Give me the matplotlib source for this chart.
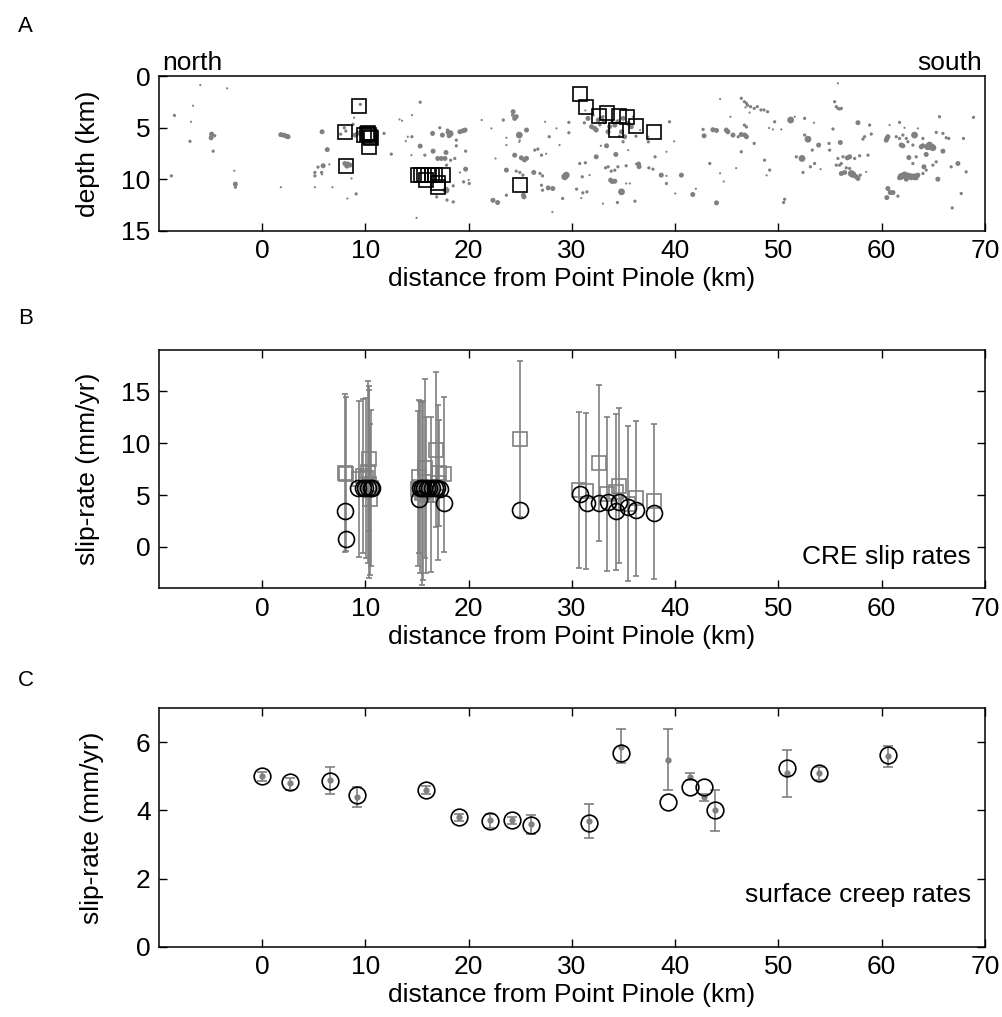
import numpy as np
import matplotlib.pyplot as plt

plt.rcParams['font.family'] = ['Liberation Sans', 'DejaVu Sans']
plt.rcParams['font.size'] = 19

GRAY = '#808080'

# ---- panel A: seismicity (distance km, depth km, size class 1..4)
eq_x = [
    -8.5, -6.0, -3.4, -6.7, -6.9, -7.0, -4.9, -4.95, -4.6, -4.75, -8.8, -2.7, -2.6, -2.6,
    1.8, 2.1, 2.35, 2.5, 1.8,
    5.8, 6.3, 5.9, 5.4, 6.5, 5.1, 5.1, 5.75, 5.8, 5.1, 6.8,
    7.95, 8.1, 7.6, 8.0, 8.3, 8.5, 8.2, 8.65, 9.1, 8.25, 8.9, 8.8, 9.5, 9.0, 9.3,
    15.3, 14.5, 13.3, 13.55, 11.8, 14.1, 14.5, 13.9, 15.3, 12.5, 14.45, 16.5, 17.2, 17.45,
    18.0, 18.2, 18.1, 17.95, 19.15, 19.45, 19.65, 18.8, 18.8, 15.75, 16.55, 17.0, 17.35,
    17.7, 17.8, 18.25, 18.65, 17.85, 19.7, 19.7, 19.15, 19.5, 20.05, 20.0, 18.5, 17.8,
    17.9, 18.5, 16.9, 14.95,
    21.25, 22.2, 23.35, 24.3, 24.45, 24.6, 24.25, 25.6, 24.9, 24.95, 24.9, 23.65, 23.65,
    24.45, 25.1, 25.4, 25.6, 22.6, 23.65, 24.6, 24.95, 25.25, 26.3, 26.9, 27.15, 26.4,
    26.7, 27.05, 27.5, 27.8, 27.4, 28.5, 28.8, 29.7, 29.3, 27.05, 27.15, 27.7, 28.15,
    25.3, 25.35, 23.65, 22.35, 22.8, 29.1, 28.1, 25.6,
    31.55, 31.9, 32.05, 32.2, 32.35, 32.55, 32.85, 33.15, 33.5, 33.65, 34.15, 34.45, 34.8,
    34.95, 35.1, 35.45, 35.75, 32.7, 33.9, 34.6, 31.2, 35.9, 31.3, 33.0, 36.2, 36.6,
    29.7, 33.35, 34.25, 32.35, 32.8, 34.95, 35.45, 36.2, 35.25, 34.45, 33.5, 33.25, 36.45,
    36.5, 30.75, 31.3, 29.45, 31.0, 31.7, 33.75, 34.15, 33.9, 33.8, 34.15, 35.25, 35.6,
    34.8, 34.4, 33.0, 30.45, 31.05, 31.45, 30.9, 36.1, 37.45, 37.85, 38.65, 39.15, 39.15,
    40.0, 40.6, 38.05, 39.15, 37.4, 37.4, 39.45, 39.9,
    41.7, 42.0, 44.0, 42.7, 43.65, 44.0, 42.8, 44.95, 45.1, 45.6, 46.1, 46.4, 46.75, 46.9,
    45.35, 44.35, 46.4, 46.7, 46.9, 47.0, 47.3, 47.65, 47.95, 48.3, 48.6, 48.95, 46.8, 47.2,
    46.7, 46.9, 46.4, 47.65, 48.65, 49.15, 48.85, 49.1, 43.35, 44.35, 44.7, 45.9,
    55.44, 55.6, 55.76, 55.92, 56.09, 55.76, 51.18, 51.57, 49.63, 52.54, 53.44, 49.47, 50.28,
    57.7, 58.83, 55.28, 52.86, 52.54, 53.89, 55.99, 54.9, 54.96, 53.28, 52.28, 51.73, 53.5,
    53.09, 52.38, 54.08, 55.76, 56.25, 56.89, 56.67, 57.38, 57.86, 58.67, 55.6, 55.92,
    56.09, 56.57, 56.89, 56.09, 56.41, 57.05, 57.21, 57.54, 57.7, 57.92, 58.5, 58.34, 58.18,
    58.99, 50.6, 50.5,
    60.6, 60.44, 60.5, 61.41, 61.73, 62.05, 62.38, 61.73, 62.21, 60.76, 63.18, 63.5, 63.99,
    61.89, 62.05, 62.54, 63.02, 63.83, 63.99, 64.63, 64.8, 64.96, 64.47, 64.31, 65.93,
    65.28, 65.93, 65.6, 66.25, 66.5, 65.28, 63.34, 62.63, 63.02, 61.89, 62.21, 62.54, 62.86,
    63.18, 63.34, 61.73, 62.38, 63.5, 64.09, 64.31, 63.99, 64.96, 65.44, 60.6, 60.83, 61.09,
    60.5, 61.57, 67.38, 66.73, 68.18, 67.92, 68.89, 67.7, 66.83,
]
eq_depth = [
    3.78, 0.83, 1.15, 2.84, 4.4, 6.3, 5.6, 5.95, 5.75, 7.25, 9.65, 9.15, 10.45, 10.75,
    5.65, 5.7, 5.8, 5.85, 10.75,
    5.37, 7.1, 8.67, 8.8, 8.54, 9.32, 9.65, 9.32, 9.5, 10.75, 10.75,
    4.98, 5.3, 5.6, 8.45, 8.5, 8.6, 8.7, 9.9, 11.4, 11.85, 4.0, 4.65, 2.71, 5.69, 5.5,
    2.5, 3.75, 4.17, 4.3, 5.53, 5.85, 5.85, 6.28, 6.76, 7.54, 7.64, 5.53, 4.98, 5.69,
    5.4, 5.55, 5.75, 5.2, 5.37, 5.27, 5.2, 6.18, 6.73, 7.64, 7.25, 7.96, 7.96,
    7.96, 7.38, 8.13, 7.96, 8.61, 7.25, 9.0, 9.32, 10.23, 10.39, 10.05, 10.62, 11.04,
    12.0, 12.18, 11.69, 13.73,
    4.23, 5.04, 4.23, 3.42, 4.07, 3.9, 3.75, 5.2, 5.69, 6.2, 6.35, 5.95, 6.66,
    7.64, 7.9, 8.1, 7.95, 7.96, 9.09, 9.19, 9.32, 9.58, 9.32, 9.42, 9.65, 7.15,
    7.05, 7.64, 7.5, 5.85, 4.4, 5.04, 6.66, 4.46, 9.74, 10.56, 11.04, 10.82, 10.88,
    11.53, 11.69, 11.53, 12.02, 12.24, 11.85, 13.15, 11.2,
    4.07, 4.88, 3.75, 5.04, 5.2, 4.23, 4.07, 4.4, 5.37, 4.88, 4.72, 4.4, 5.37,
    4.07, 5.85, 4.56, 4.88, 4.7, 4.3, 5.8, 4.5, 3.9, 3.3, 3.9, 5.8, 5.2,
    5.46, 6.73, 7.57, 7.8, 6.73, 6.34, 7.15, 8.5, 8.67, 8.77, 8.77, 8.87, 8.5,
    8.75, 8.45, 8.38, 9.58, 9.74, 9.58, 10.07, 10.17, 10.2, 9.19, 9.1, 10.39, 10.39,
    11.2, 12.24, 12.34, 10.94, 11.3, 11.2, 11.8, 12.11, 8.87, 9.0, 9.58, 9.65, 10.39,
    11.36, 9.58, 7.8, 7.31, 6.34, 5.85, 4.4, 6.3,
    11.46, 10.9, 12.27, 5.14, 5.17, 5.24, 5.76, 5.2, 5.37, 5.69, 5.85, 5.63, 5.69, 5.85,
    3.91, 2.19, 2.12, 2.45, 2.6, 2.8, 2.93, 3.1, 2.93, 3.25, 3.25, 3.42, 3.0, 3.5,
    4.72, 4.9, 7.31, 6.5, 8.13, 9.09, 9.6, 5.0, 8.45, 9.4, 10.2, 8.9,
    2.45, 2.93, 3.1, 3.16, 3.1, 0.66, 4.23, 3.91, 4.4, 4.07, 4.49, 5.14, 5.14,
    4.49, 4.72, 5.1, 6.09, 5.69, 6.66, 6.41, 6.5, 7.15, 7.15, 7.96, 7.8, 8.45,
    8.77, 9.32, 9.0, 7.96, 7.8, 7.8, 7.9, 7.96, 7.7, 7.64, 8.61, 8.61,
    8.45, 8.87, 8.93, 9.42, 9.32, 9.42, 9.52, 9.74, 9.9, 9.58, 9.26, 5.85, 6.08,
    5.59, 11.92, 12.24,
    5.85, 6.18, 6.02, 5.85, 6.02, 5.69, 6.02, 4.46, 4.98, 4.72, 5.69, 5.04, 6.02,
    6.66, 6.73, 6.34, 6.66, 6.83, 6.73, 6.66, 6.83, 6.92, 6.83, 7.57, 7.25,
    5.43, 5.53, 3.91, 5.95, 6.02, 8.29, 7.8, 7.87, 8.45, 9.7, 9.55, 9.66, 9.74,
    9.74, 9.84, 9.84, 9.97, 9.58, 8.77, 9.09, 9.42, 8.61, 9.97, 10.88, 11.27, 11.27,
    11.76, 11.62, 8.45, 8.77, 9.26, 6.02, 3.97, 11.36, 12.76,
]
eq_size = [
    2, 1, 1, 1, 1, 2, 3, 3, 2, 2, 2, 1, 3, 2,
    3, 3, 3, 3, 1,
    3, 3, 3, 2, 1, 2, 2, 2, 1, 1, 1,
    2, 2, 2, 3, 3, 3, 3, 1, 2, 1, 1, 2, 2, 3, 3,
    2, 1, 1, 1, 2, 1, 2, 1, 3, 2, 1, 3, 2, 3,
    3, 4, 3, 2, 3, 3, 3, 2, 2, 2, 3, 3, 3,
    3, 3, 2, 2, 2, 2, 3, 1, 2, 2, 1, 2, 4,
    2, 2, 2, 1,
    1, 1, 2, 3, 3, 3, 2, 3, 4, 1, 1, 1, 1,
    3, 3, 3, 3, 1, 3, 2, 2, 2, 3, 2, 2, 2,
    2, 2, 1, 2, 1, 1, 1, 2, 4, 2, 2, 3, 3,
    3, 3, 2, 3, 3, 2, 1, 1,
    3, 3, 2, 3, 3, 3, 3, 3, 3, 3, 3, 3, 3,
    3, 3, 3, 3, 2, 2, 2, 2, 1, 1, 2, 2, 1,
    2, 3, 3, 3, 1, 2, 1, 1, 2, 2, 2, 2, 3,
    3, 2, 2, 4, 2, 1, 3, 3, 3, 2, 2, 1, 1,
    4, 2, 1, 2, 2, 2, 1, 2, 2, 2, 3, 1, 2,
    1, 3, 2, 1, 2, 1, 2, 1,
    3, 1, 3, 2, 3, 3, 3, 3, 3, 3, 2, 3, 3, 3,
    1, 1, 2, 2, 2, 2, 2, 2, 2, 2, 2, 2, 1, 1,
    2, 2, 2, 2, 2, 2, 1, 1, 2, 1, 1, 1,
    2, 2, 2, 2, 2, 1, 4, 1, 2, 2, 1, 1, 1,
    3, 2, 2, 4, 2, 3, 3, 2, 2, 2, 4, 2, 2,
    2, 2, 1, 2, 2, 3, 3, 2, 2, 2, 2, 2,
    2, 2, 2, 3, 3, 4, 4, 3, 3, 2, 1, 2, 2,
    2, 2, 2,
    3, 3, 3, 2, 2, 2, 2, 2, 1, 1, 4, 1, 2,
    3, 3, 2, 2, 3, 3, 4, 4, 4, 4, 3, 3,
    2, 2, 2, 2, 2, 2, 2, 3, 2, 4, 4, 4, 4,
    4, 3, 3, 3, 3, 3, 2, 2, 2, 3, 3, 3, 3,
    3, 2, 3, 2, 2, 2, 2, 2, 2,
]

# repeating earthquake sequences (black squares)
rep_x = [9.36, 8.0, 8.1, 9.9, 10.1, 10.3, 10.4, 10.5, 10.2, 10.3,
         15.1, 15.4, 15.7, 16.1, 16.4, 16.7, 17.5, 17.0, 17.0, 15.9,
         24.95,
         30.76, 31.4, 32.6, 33.4, 34.56, 35.37, 34.24, 36.24, 37.9]
rep_depth = [2.84, 5.37, 8.67, 5.7, 5.6, 5.7, 5.9, 6.0, 5.5, 6.8,
             9.58, 9.58, 9.58, 9.58, 9.6, 9.6, 9.6, 10.3, 10.7, 10.07,
             10.49,
             1.7, 2.93, 3.81, 3.52, 3.84, 3.97, 5.2, 4.78, 5.37]

# ---- panel B: CRE slip rates
cre_sq_x = [8.0, 8.16, 9.37, 9.78, 10.04, 10.27, 10.36, 10.49, 10.3, 10.45,
            15.05, 15.2, 15.33, 15.49, 15.59, 15.75, 15.91, 16.33, 16.81, 17.04, 17.14, 17.59,
            24.95,
            30.69, 31.4, 32.59, 33.4, 34.24, 34.56, 35.43, 36.24, 37.95]
cre_sq_rate = [7.13, 7.03, 6.57, 6.85, 6.65, 7.25, 6.05, 5.67, 8.5, 4.6,
               5.59, 6.77, 5.8, 5.16, 5.44, 7.57, 5.0, 5.03, 9.4, 6.2, 7.11, 7.0,
               10.4,
               5.48, 5.38, 8.1, 5.08, 5.29, 5.9, 4.17, 4.68, 4.4]
cre_sq_err = [7.64, 7.42, 7.5, 7.45, 7.75, 8.8, 9.05, 7.5, 7.0, 7.3,
              7.48, 7.37, 8.33, 8.81, 8.6, 8.66, 7.53, 7.5, 7.5, 7.45, 5.11, 7.45,
              7.5,
              7.53, 7.53, 7.53, 7.45, 7.5, 7.5, 7.5, 7.52, 7.5]

cre_circ_x = [8.0, 8.16, 9.26, 9.75, 10.0, 10.27, 10.49, 10.68,
              15.2, 15.33, 15.5, 15.7, 15.95, 16.2, 16.45, 16.7, 16.95, 17.2, 17.59,
              24.95,
              30.76, 31.47, 32.59, 33.5, 34.24, 34.56, 35.43, 36.24, 37.95]
cre_circ_rate = [3.49, 0.77, 5.64, 5.64, 5.64, 5.64, 5.64, 5.64,
                 4.62, 5.65, 5.65, 5.7, 5.7, 5.7, 5.7, 5.7, 5.65, 5.6, 4.19,
                 3.55,
                 5.06, 4.2, 4.2, 4.36, 3.5, 4.36, 3.88, 3.56, 3.3]

# ---- panel C: surface creep rates
creep_x = [0.0, 2.68, 6.55, 9.2, 15.85, 19.04, 22.1, 24.2, 26.07,
           31.63, 34.73, 39.31, 41.47, 42.82, 43.89, 50.87, 53.93, 60.61]
creep_rate = [5.0, 4.8, 4.9, 4.41, 4.6, 3.8, 3.71, 3.71, 3.59,
              3.69, 5.85, 5.49, 4.99, 4.39, 4.0, 5.1, 5.1, 5.6]
creep_lo = [4.88, 4.59, 4.49, 4.1, 4.49, 3.69, 3.49, 3.59, 3.3,
            3.2, 5.38, 4.6, 4.9, 4.29, 3.39, 4.39, 4.9, 5.29]
creep_hi = [5.12, 4.96, 5.29, 4.7, 4.71, 3.9, 3.9, 3.82, 3.88,
            4.2, 6.39, 6.39, 5.09, 4.49, 4.59, 5.78, 5.27, 5.88]
model_rate = [5.0, 4.85, 4.86, 4.46, 4.6, 3.8, 3.68, 3.73, 3.56,
              3.63, 5.69, 4.26, 4.68, 4.68, 4.02, 5.25, 5.1, 5.63]

xticks = [0, 10, 20, 30, 40, 50, 60, 70]
xlab = 'distance from Point Pinole (km)'

fig = plt.figure(figsize=(10.03, 10.17), dpi=100)
axA = fig.add_axes([0.1585, 0.7729, 0.8235, 0.1519])
axB = fig.add_axes([0.1585, 0.4215, 0.8235, 0.2343])
axC = fig.add_axes([0.1585, 0.0692, 0.8235, 0.2343])

# A
size_map = {1: 2.5, 2: 5.5, 3: 13, 4: 24}
axA.scatter(eq_x, eq_depth, s=[size_map[m] for m in eq_size], c=GRAY, linewidths=0, zorder=2)
axA.plot(rep_x, rep_depth, 's', mfc='none', mec='k', ms=9.6, mew=1.2, zorder=3)
axA.set_ylim(15, 0)
axA.set_yticks([0, 5, 10, 15])
axA.set_ylabel('depth (km)')
axA.text(0.004, 1.01, 'north', transform=axA.transAxes, ha='left', va='bottom')
axA.text(0.996, 1.01, 'south', transform=axA.transAxes, ha='right', va='bottom')

# B
axB.errorbar(cre_sq_x, cre_sq_rate, yerr=cre_sq_err, fmt='s', mfc='none', mec=GRAY,
             ms=9.6, mew=1.2, ecolor=GRAY, elinewidth=1.2, capsize=2.2, capthick=1.2, zorder=2)
axB.plot(cre_circ_x, cre_circ_rate, 'o', mfc='none', mec='k', ms=11.5, mew=1.2, zorder=3)
axB.set_ylim(-4, 19)
axB.set_yticks([0, 5, 10, 15])
axB.set_ylabel('slip-rate (mm/yr)')
axB.text(0.983, 0.102, 'CRE slip rates', transform=axB.transAxes, ha='right', va='baseline')

# C
creep_err = [np.subtract(creep_rate, creep_lo), np.subtract(creep_hi, creep_rate)]
axC.errorbar(creep_x, creep_rate, yerr=creep_err, fmt='o', mfc=GRAY, mec=GRAY, ms=3.5,
             ecolor=GRAY, elinewidth=1.2, capsize=3.6, capthick=1.2, zorder=2)
axC.plot(creep_x, model_rate, 'o', mfc='none', mec='k', ms=12, mew=1.2, zorder=3)
axC.set_ylim(0, 7)
axC.set_yticks([0, 2, 4, 6])
axC.set_ylabel('slip-rate (mm/yr)')
axC.text(0.983, 0.188, 'surface creep rates', transform=axC.transAxes, ha='right', va='baseline')

for ax in (axA, axB, axC):
    ax.set_xlim(-10, 70)
    ax.set_xticks(xticks)
    ax.set_xlabel(xlab, labelpad=3)
    for sp in ax.spines.values():
        sp.set_linewidth(1.1)
    ax.tick_params(direction='in', length=6, width=1.0, pad=6)
    ax.yaxis.set_label_coords(-0.072, 0.5)

axC.yaxis.set_label_coords(-0.066, 0.5)
axB.tick_params(top=True, right=True)
axC.tick_params(top=True, right=True)

for lbl, y in (('A', 27), ('B', 318), ('C', 680)):
    fig.text(18 / 1003, 1 - y / 1017, lbl, fontsize=16, ha='left', va='center')

fig.savefig('out.png', dpi=100)
